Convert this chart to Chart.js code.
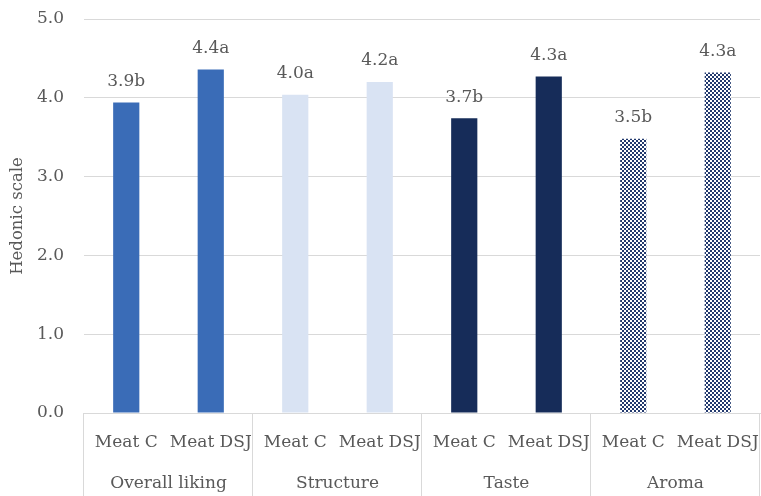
<!DOCTYPE html>
<html>
<head>
<meta charset="utf-8">
<script src="https://cdn.jsdelivr.net/npm/chart.js@4"></script>
<style>
  html, body { margin: 0; padding: 0; background: #fff; }
  #wrap { width: 761px; height: 496px; }
</style>
</head>
<body>
<div id="wrap"><canvas id="chart"></canvas></div>
<script>
const groups = ["Overall liking", "Structure", "Taste", "Aroma"];
const samples = ["Meat C", "Meat DSJ"];
const values = [3.94, 4.36, 4.04, 4.20, 3.74, 4.27, 3.48, 4.32];
const letters = ["b", "a", "a", "a", "b", "a", "b", "a"];
const yTicks = [0, 1, 2, 3, 4, 5];

const textColor = "#595959";
const gridColor = "#d9d9d9";
const fontFamily = "'DejaVu Serif', serif";

// checker pattern for the Aroma bars
const makeChecker = () => {
    const c = document.createElement("canvas");
    c.width = 4;
    c.height = 4;
    const g = c.getContext("2d");
    g.fillStyle = "#ffffff";
    g.fillRect(0, 0, 4, 4);
    g.fillStyle = "#22396e";
    g.fillRect(0, 0, 2, 2);
    g.fillRect(2, 2, 2, 2);
    return g.createPattern(c, "repeat");
};
const checker = makeChecker();
const barColors = ["#3a6cb7", "#3a6cb7", "#d9e3f3", "#d9e3f3", "#162c59", "#162c59", checker, checker];

const labels = [];
groups.forEach(() => samples.forEach((s) => labels.push(s)));

const groupAxis = {
    id: "groupAxis",
    afterDraw(chart) {
        const ctx = chart.ctx;
        const x = chart.scales.x;
        const bottom = chart.chartArea.bottom;
        const h = chart.height;
        ctx.save();
        ctx.strokeStyle = gridColor;
        ctx.lineWidth = 1;
        for (let i = 0; i <= groups.length; i++) {
            let px;
            if (i === 0) px = x.left;
            else if (i === groups.length) px = x.right;
            else px = (x.getPixelForValue(2 * i - 1) + x.getPixelForValue(2 * i)) / 2;
            px = Math.round(px) - 0.5;
            ctx.beginPath();
            ctx.moveTo(px, bottom);
            ctx.lineTo(px, h);
            ctx.stroke();
        }
        ctx.fillStyle = textColor;
        ctx.font = "17px " + fontFamily;
        ctx.textAlign = "center";
        ctx.textBaseline = "middle";
        groups.forEach((g, i) => {
            const cx = (x.getPixelForValue(2 * i) + x.getPixelForValue(2 * i + 1)) / 2;
            ctx.fillText(g, cx, 484);
        });

        // value labels above bars
        const meta = chart.getDatasetMeta(0);
        meta.data.forEach((bar, i) => {
            ctx.fillText(values[i].toFixed(1) + letters[i], bar.x, bar.y - 21);
        });
        ctx.restore();
    }
};

new Chart(document.getElementById("chart"), {
    type: "bar",
    data: {
        labels,
        datasets: [{
            data: values,
            backgroundColor: barColors,
            borderWidth: 0,
            categoryPercentage: 1,
            barPercentage: 0.31,
        }],
    },
    options: {
        responsive: true,
        maintainAspectRatio: false,
        animation: false,
        layout: { padding: { top: 19, right: 1, left: 0, bottom: 0 } },
        plugins: {
            legend: { display: false },
            tooltip: { enabled: false },
        },
        scales: {
            x: {
                grid: { display: false, drawTicks: false },
                border: { display: true, color: gridColor },
                ticks: {
                    color: textColor,
                    font: { family: fontFamily, size: 17 },
                    padding: 19,
                    maxRotation: 0,
                    autoSkip: false,
                },
                afterFit(scale) {
                    scale.height = 83;
                    scale.paddingLeft = 0;
                    scale.paddingRight = 0;
                },
            },
            y: {
                min: 0,
                max: 5,
                afterBuildTicks(scale) { scale.ticks = yTicks.map((v) => ({ value: v })); },
                grid: { color: gridColor, drawTicks: false },
                border: { display: false },
                ticks: {
                    color: textColor,
                    font: { family: fontFamily, size: 17 },
                    padding: 20,
                    callback: (v) => Number(v).toFixed(1),
                },
                title: {
                    display: true,
                    text: "Hedonic scale",
                    color: textColor,
                    font: { family: fontFamily, size: 16.5 },
                    padding: { top: 8, bottom: 0 },
                },
                afterFit(scale) {
                    scale.width = 84;
                    scale.paddingTop = 0;
                    scale.paddingBottom = 0;
                },
            },
        },
    },
    plugins: [groupAxis],
});
</script>
</body>
</html>
